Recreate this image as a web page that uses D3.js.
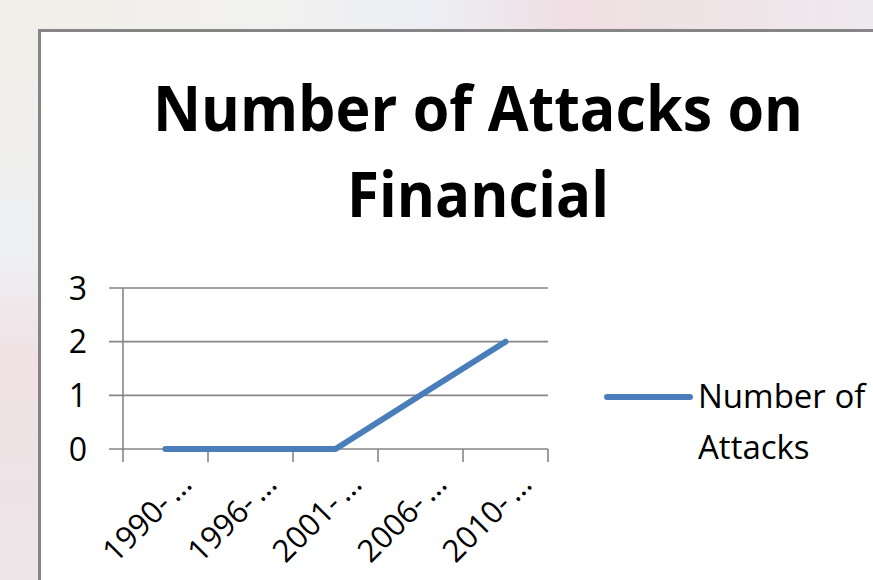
<!DOCTYPE html>
<html>
<head>
<meta charset="utf-8">
<script src="https://cdn.jsdelivr.net/npm/d3@7"></script>
<style>
  html, body { margin: 0; padding: 0; background: #fff; }
  svg { display: block; }
  text { font-family: "Open Sans", "Noto Sans", sans-serif; fill: #000; }
</style>
</head>
<body>
<div id="chart"></div>
<script>
// chart data
const periods = ['1990-…', '1996-…', '2001-…', '2006-…', '2010-…'];
const attacks = [0, 0, 0, 1, 2];
const yTicks = [0, 1, 2, 3];
const titleLines = ['Number of Attacks on', 'Financial'];
const seriesName = ['Number of', 'Attacks'];

const width = 873;
const height = 580;
const plot = { left: 123, right: 548, top: 288, bottom: 449 };
const blue = '#4a7ebb';
const grid = '#868686';

const svg = d3.select('#chart').append('svg')
  .attr('width', width)
  .attr('height', height);

// blurred slide background behind the chart frame
const defs = svg.append('defs');
const topGrad = defs.append('linearGradient').attr('id', 'bgTop');
[['0%', '#f2eee8'], ['30%', '#f1f1ef'], ['50%', '#edeef3'], ['65%', '#efdfe4'], ['80%', '#efe3e5'], ['100%', '#eeeaef']]
  .forEach(s => topGrad.append('stop').attr('offset', s[0]).attr('stop-color', s[1]));
const leftGrad = defs.append('linearGradient').attr('id', 'bgLeft')
  .attr('x1', 0).attr('x2', 0).attr('y1', 0).attr('y2', 1);
[['0%', '#f2eee8'], ['40%', '#eef0f3'], ['60%', '#f0e1e4'], ['100%', '#ede6e9']]
  .forEach(s => leftGrad.append('stop').attr('offset', s[0]).attr('stop-color', s[1]));

svg.append('rect').attr('width', width).attr('height', 30).attr('fill', 'url(#bgTop)');
svg.append('rect').attr('y', 30).attr('width', 39).attr('height', height - 30).attr('fill', 'url(#bgLeft)');

// chart frame
svg.append('rect')
  .attr('x', 39.5).attr('y', 30.5)
  .attr('width', width).attr('height', height)
  .attr('fill', '#fff')
  .attr('stroke', '#858585')
  .attr('stroke-width', 3);

// title
const title = svg.append('g').attr('class', 'title');
title.selectAll('text')
  .data(titleLines)
  .join('text')
  .attr('x', 478)
  .attr('y', (d, i) => 131 + i * 86)
  .attr('text-anchor', 'middle')
  .style('font-size', '62px')
  .style('font-weight', 'bold')
  .attr('textLength', (d, i) => i === 0 ? 650 : 262)
  .attr('lengthAdjust', 'spacingAndGlyphs')
  .text(d => d);

// scales
const x = d3.scaleBand()
  .domain(periods)
  .range([plot.left, plot.right]);

const y = d3.scaleLinear()
  .domain([0, 3])
  .range([plot.bottom, plot.top]);

// horizontal gridlines with their outer tick marks
svg.append('g')
  .selectAll('line')
  .data(yTicks)
  .join('line')
  .attr('x1', plot.left - 14)
  .attr('x2', plot.right)
  .attr('y1', d => y(d))
  .attr('y2', d => y(d))
  .attr('stroke', grid)
  .attr('stroke-width', 1.6);

// y axis line
svg.append('line')
  .attr('x1', plot.left).attr('x2', plot.left)
  .attr('y1', plot.top).attr('y2', plot.bottom + 13)
  .attr('stroke', grid)
  .attr('stroke-width', 1.6);

// y tick labels
svg.append('g')
  .selectAll('text')
  .data(yTicks)
  .join('text')
  .attr('x', 87)
  .attr('y', d => y(d))
  .attr('dy', '0.36em')
  .attr('text-anchor', 'end')
  .style('font-size', '32px')
  .text(d => d);

// x tick marks at category boundaries
const boundaries = periods.map(p => x(p)).concat([plot.right]);
svg.append('g')
  .selectAll('line')
  .data(boundaries.slice(1))
  .join('line')
  .attr('x1', d => d).attr('x2', d => d)
  .attr('y1', plot.bottom).attr('y2', plot.bottom + 13)
  .attr('stroke', grid)
  .attr('stroke-width', 1.6);

// x tick labels, rotated
svg.append('g')
  .selectAll('text')
  .data(periods)
  .join('text')
  .attr('text-anchor', 'end')
  .attr('transform', d => 'translate(' + (x(d) + x.bandwidth() / 2 + 28) + ',' + (plot.bottom + 37) + ') rotate(-45)')
  .style('font-size', '31px')
  .text(d => d.replace('…', '\u2009…'));

// series line
const line = d3.line()
  .x((d, i) => x(periods[i]) + x.bandwidth() / 2)
  .y(d => y(d));

svg.append('path')
  .datum(attacks)
  .attr('d', line)
  .attr('fill', 'none')
  .attr('stroke', blue)
  .attr('stroke-width', 6)
  .attr('stroke-linecap', 'round')
  .attr('stroke-linejoin', 'round');

// legend
const legend = svg.append('g').attr('transform', 'translate(607,397)');
legend.append('line')
  .attr('x1', 0).attr('x2', 83)
  .attr('y1', 0).attr('y2', 0)
  .attr('stroke', blue)
  .attr('stroke-width', 6)
  .attr('stroke-linecap', 'round');
legend.selectAll('text')
  .data(seriesName)
  .join('text')
  .attr('x', 91)
  .attr('y', (d, i) => 11 + i * 51)
  .style('font-size', '33px')
  .text(d => d);
</script>
</body>
</html>
